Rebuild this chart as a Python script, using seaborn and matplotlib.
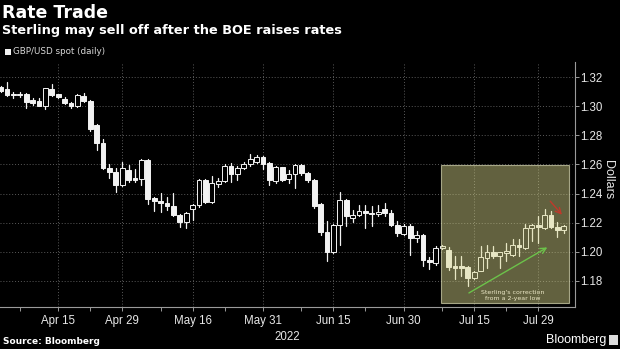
import numpy as np
import pandas as pd
import matplotlib
matplotlib.use("Agg")
import matplotlib.pyplot as plt
from matplotlib.patches import Rectangle
import seaborn as sns

# GBP/USD daily candles, 4 Apr - 4 Aug 2022 (business days)
dates = pd.bdate_range("2022-04-04", "2022-08-04")

open_ = [1.3130, 1.3120, 1.3085, 1.3082, 1.3084, 1.3040, 1.3036, 1.3003, 1.3120, 1.3080,
         1.3052, 1.3024, 1.3001, 1.3072, 1.3034, 1.2869, 1.2746, 1.2577, 1.2549, 1.2456,
         1.2563, 1.2505, 1.2499, 1.2632, 1.2370, 1.2352, 1.2335, 1.2317, 1.2255, 1.2203,
         1.2296, 1.2319, 1.2495, 1.2342, 1.2467, 1.2486, 1.2590, 1.2533, 1.2572, 1.2600,
         1.2618, 1.2654, 1.2609, 1.2486, 1.2579, 1.2500, 1.2533, 1.2593, 1.2541, 1.2495,
         1.2330, 1.2136, 1.1997, 1.2182, 1.2358, 1.2235, 1.2253, 1.2280, 1.2267, 1.2262,
         1.2296, 1.2267, 1.2187, 1.2123, 1.2175, 1.2095, 1.2118, 1.1947, 1.1924, 1.2027,
         1.2015, 1.1901, 1.1900, 1.1894, 1.1823, 1.1871, 1.1956, 1.1997, 1.1974, 1.1994,
         1.1979, 1.2047, 1.2027, 1.2161, 1.2184, 1.2164, 1.2255, 1.2171, 1.2152]
high = [1.3135, 1.3166, 1.3095, 1.3100, 1.3092, 1.3058, 1.3058, 1.3125, 1.3152, 1.3085,
        1.3060, 1.3030, 1.3080, 1.3093, 1.3040, 1.2875, 1.2773, 1.2600, 1.2575, 1.2620,
        1.2597, 1.2568, 1.2635, 1.2635, 1.2378, 1.2403, 1.2376, 1.2403, 1.2258, 1.2270,
        1.2325, 1.2500, 1.2500, 1.2522, 1.2506, 1.2600, 1.2609, 1.2586, 1.2618, 1.2673,
        1.2665, 1.2660, 1.2615, 1.2590, 1.2585, 1.2560, 1.2600, 1.2600, 1.2550, 1.2500,
        1.2335, 1.2210, 1.2190, 1.2408, 1.2360, 1.2285, 1.2323, 1.2323, 1.2316, 1.2323,
        1.2335, 1.2285, 1.2213, 1.2190, 1.2190, 1.2140, 1.2120, 1.1962, 1.2040, 1.2045,
        1.2031, 1.1970, 1.1970, 1.1900, 1.1870, 1.2038, 1.2047, 1.2040, 1.2000, 1.2060,
        1.2085, 1.2089, 1.2190, 1.2189, 1.2243, 1.2294, 1.2282, 1.2203, 1.2185]
low = [1.3095, 1.3070, 1.3058, 1.3065, 1.2988, 1.3005, 1.2998, 1.2983, 1.3070, 1.3055,
       1.3015, 1.2985, 1.2995, 1.3030, 1.2832, 1.2702, 1.2570, 1.2506, 1.2414, 1.2450,
       1.2479, 1.2477, 1.2460, 1.2330, 1.2278, 1.2271, 1.2284, 1.2243, 1.2171, 1.2164,
       1.2216, 1.2310, 1.2335, 1.2335, 1.2445, 1.2478, 1.2477, 1.2490, 1.2566, 1.2590,
       1.2612, 1.2568, 1.2460, 1.2475, 1.2485, 1.2470, 1.2440, 1.2530, 1.2480, 1.2303,
       1.2118, 1.1935, 1.1990, 1.2050, 1.2175, 1.2203, 1.2245, 1.2164, 1.2175, 1.2248,
       1.2243, 1.2180, 1.2106, 1.2118, 1.1981, 1.2070, 1.1901, 1.1882, 1.1910, 1.2020,
       1.1878, 1.1810, 1.1833, 1.1764, 1.1815, 1.1865, 1.1890, 1.1960, 1.1890, 1.1935,
       1.1970, 1.1970, 1.2020, 1.2073, 1.2061, 1.2160, 1.2165, 1.2103, 1.2130]
close = [1.3105, 1.3079, 1.3077, 1.3076, 1.3030, 1.3025, 1.3004, 1.3125, 1.3075, 1.3066,
         1.3024, 1.3001, 1.3075, 1.3034, 1.2840, 1.2746, 1.2575, 1.2548, 1.2458, 1.2572,
         1.2495, 1.2492, 1.2632, 1.2364, 1.2352, 1.2336, 1.2317, 1.2250, 1.2203, 1.2266,
         1.2321, 1.2495, 1.2340, 1.2472, 1.2486, 1.2590, 1.2533, 1.2572, 1.2604, 1.2636,
         1.2654, 1.2604, 1.2490, 1.2581, 1.2490, 1.2536, 1.2597, 1.2541, 1.2490, 1.2317,
         1.2136, 1.1997, 1.2187, 1.2358, 1.2243, 1.2250, 1.2282, 1.2267, 1.2260, 1.2275,
         1.2267, 1.2187, 1.2130, 1.2175, 1.2095, 1.2118, 1.1947, 1.1928, 1.2027, 1.2038,
         1.1897, 1.1890, 1.1890, 1.1823, 1.1860, 1.1962, 1.1997, 1.1974, 1.1997, 1.2005,
         1.2047, 1.2031, 1.2164, 1.2184, 1.2168, 1.2255, 1.2171, 1.2152, 1.2180]

major_dates = ["2022-04-15", "2022-04-29", "2022-05-16", "2022-05-31",
               "2022-06-15", "2022-06-30", "2022-07-15", "2022-07-29"]
minor_dates = ["2022-04-07", "2022-04-22", "2022-05-09", "2022-05-23",
               "2022-06-08", "2022-06-22", "2022-07-08", "2022-07-22"]
y_ticks = [1.18, 1.20, 1.22, 1.24, 1.26, 1.28, 1.30, 1.32]

CANDLE = "#f2f2f2"
TEXT = "#e8e8e8"
GRID = "#5a5a5a"

sns.set_style("dark", {"axes.facecolor": "black", "figure.facecolor": "black",
                       "axes.edgecolor": "#9a9a9a", "grid.color": GRID})
plt.rcParams["font.family"] = ["DejaVu Sans"]

fig = plt.figure(figsize=(6.2, 3.49), dpi=100, facecolor="black")
ax = fig.add_axes([0.0, 0.1203, 0.9274, 0.7020])
ax.set_facecolor("black")

pos = np.arange(len(dates))
o = np.array(open_)
c = np.array(close)
up = c >= o

# wicks: one vertical segment per session
wicks = pd.DataFrame({
    "pos": np.repeat(pos, 2),
    "price": np.column_stack([low, high]).ravel(),
})
sns.lineplot(data=wicks, x="pos", y="price", units="pos", estimator=None,
             color=CANDLE, lw=0.9, ax=ax, zorder=2, legend=False)

# bodies: hollow for up sessions, solid for down sessions
ax.bar(pos, np.maximum(np.abs(c - o), 0.0004), bottom=np.minimum(o, c),
       width=0.74, color=np.where(up, "black", CANDLE), edgecolor=CANDLE,
       linewidth=0.7, zorder=3)

ax.set_xlim(-0.1, 89.75)
ax.set_ylim(1.1621, 1.3303)

idx = {d: i for i, d in enumerate(dates)}
major_pos = [idx[pd.Timestamp(d)] for d in major_dates]
minor_pos = [idx[pd.Timestamp(d)] for d in minor_dates]
ax.set_xticks(major_pos)
ax.set_xticklabels([pd.Timestamp(d).strftime("%b %d") for d in major_dates])
ax.set_xticks(minor_pos, minor=True)
ax.set_xlabel("2022", color=TEXT, fontsize=8.3, family="Liberation Sans", labelpad=2.5)
ax.set_ylabel("")

ax.yaxis.tick_right()
ax.set_yticks(y_ticks)
ax.set_yticklabels([f"{v:.2f}" for v in y_ticks])

ax.tick_params(axis="x", which="both", direction="out", length=3, width=0.7,
               color="#9a9a9a", labelsize=8.3, labelcolor=TEXT, pad=3, bottom=True)
ax.tick_params(axis="y", which="major", direction="out", length=3, width=0.7,
               color="#9a9a9a", labelsize=8.3, labelcolor=TEXT, pad=1, right=True, left=False)
for lab in ax.get_xticklabels() + ax.get_yticklabels():
    lab.set_family("Liberation Sans")

ax.grid(True, which="major", color=GRID, linestyle=(0, (1, 2)), linewidth=0.7)
ax.set_axisbelow(True)
for side in ("top", "left"):
    ax.spines[side].set_visible(False)
for side in ("right", "bottom"):
    ax.spines[side].set_visible(True)
    ax.spines[side].set_color("#9a9a9a")
    ax.spines[side].set_linewidth(0.8)

# highlighted recovery window
ax.add_patch(Rectangle((68.8, 1.1647), 20.06, 0.0949, facecolor=(0.86, 0.85, 0.55, 0.45),
                       edgecolor=(0.85, 0.85, 0.7, 0.7), linewidth=0.8, zorder=4))
ax.annotate("", xy=(85.8, 1.2040), xytext=(72.8, 1.1708),
            arrowprops=dict(arrowstyle="->", color="#6cc24a", lw=1.0), zorder=5)
ax.annotate("", xy=(88.0, 1.2240), xytext=(85.6, 1.2362),
            arrowprops=dict(arrowstyle="->", color="#c0392b", lw=1.0), zorder=5)
ax.text(80.0, 1.1700, "Sterling's correction\nfrom a 2-year low", ha="center", va="center",
        fontsize=4.5, color="#ebe7c6", linespacing=1.3, zorder=5)

# headings, legend and footer
fig.text(2 / 620, 1 - 18 / 349, "Rate Trade", fontsize=12.5, fontweight="bold",
         color="white", va="baseline")
fig.text(2 / 620, 1 - 34 / 349, "Sterling may sell off after the BOE raises rates",
         fontsize=9.3, fontweight="bold", color="white", va="baseline")
fig.patches.append(Rectangle((5 / 620, 1 - 55 / 349), 6 / 620, 6 / 349,
                             transform=fig.transFigure, facecolor=CANDLE, edgecolor="none"))
fig.text(13 / 620, 1 - 52 / 349, "GBP/USD spot (daily)", fontsize=6.3, color="#d8d8d8",
         va="center")
fig.text(608 / 620, 1 - 180 / 349, "Dollars", rotation=270, fontsize=9,
         family="Liberation Sans", color=TEXT, ha="center", va="center")
fig.text(3 / 620, 1 - 342 / 349, "Source: Bloomberg", fontsize=6.5, fontweight="bold",
         color="white", va="center")
fig.text(606 / 620, 1 - 340 / 349, "Bloomberg", fontsize=9, family="Liberation Sans",
         color="white", va="center", ha="right")
fig.patches.append(Rectangle((609 / 620, 1 - 345 / 349), 9 / 620, 10 / 349,
                             transform=fig.transFigure, facecolor="#dddddd", edgecolor="none"))

fig.savefig("out.png", dpi=100, facecolor="black")
